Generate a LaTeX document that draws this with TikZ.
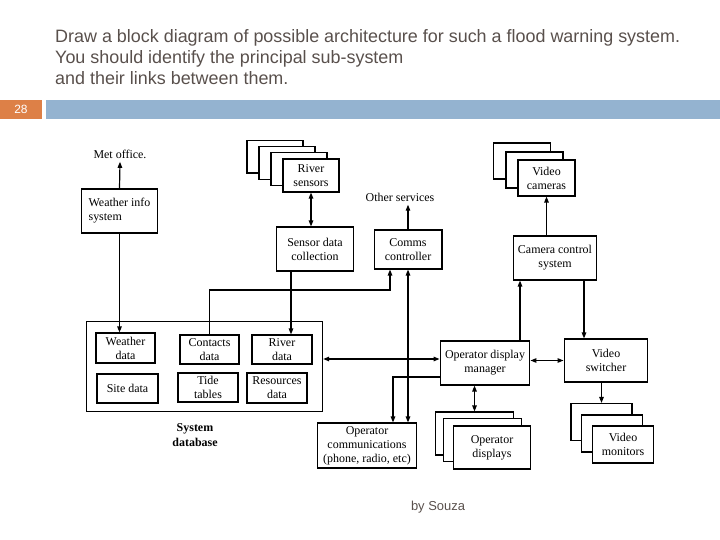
\documentclass[tikz,border=0pt]{standalone}
\usepackage{fontspec}
\setmainfont{Liberation Serif}
\setsansfont{Liberation Sans}
\usepackage{tikz}
\usetikzlibrary{arrows.meta, positioning, calc}
\definecolor{titlegrey}{RGB}{89,80,76}
\definecolor{barblue}{RGB}{148,179,208}
\definecolor{nrorange}{RGB}{221,128,71}

\begin{document}
\begin{tikzpicture}[x=1bp, y=-1bp,
    font=\fontsize{12}{14}\selectfont,
    blk/.style={draw, line width=1.25pt, fill=white, inner sep=1pt, align=center},
    arr/.style={line width=1.2pt, -{Triangle[length=6pt,width=4.5pt]}},
    dbl/.style={line width=1.2pt, {Triangle[length=6pt,width=4.5pt]}-{Triangle[length=6pt,width=4.5pt]}},
    ttl/.style={font=\sffamily\fontsize{18}{20}\selectfont, text=titlegrey, anchor=base west, inner sep=0pt}]
    \def\dx{12}
    \def\dy{6.3}
    % page
    \useasboundingbox (0,0) rectangle (720,540);
    \node[ttl] (title1) at (55,43) {Draw a block diagram of possible architecture for such a flood warning system.};
    \node[ttl] (title2) at (55,64) {You should identify the principal sub-system};
    \node[ttl] (title3) at (55,85) {and their links between them.};
    \fill[nrorange] (0,100) rectangle (42,119);
    \fill[barblue] (46,100) rectangle (720,119);
    \node[font=\sffamily\fontsize{12}{13}\selectfont, text=white] (pageno) at (21,109.5) {28};
    % weather side
    \node (met) at (120,154) {Met office.};
    \node[blk, minimum width=77, minimum height=44, align=left] (wis) at (119.5,211) {Weather info\\system};
    % river sensors, back to front
    \node[blk, minimum width=56, minimum height=33] (river3) at ({311-3*\dx},{175.5-3*\dy}) {};
    \node[blk, minimum width=56, minimum height=33] (river2) at ({311-2*\dx},{175.5-2*\dy}) {};
    \node[blk, minimum width=56, minimum height=33] (river1) at ({311-\dx},{175.5-\dy}) {};
    \node[blk, minimum width=56, minimum height=33] (river) at (311,175.5) {River\\sensors};
    \node[blk, minimum width=78, minimum height=44] (sensor) at (315,249) {Sensor data\\collection};
    \node (oth) at (400,197) {Other services};
    \node[blk, minimum width=68, minimum height=39] (comms) at (408,249.5) {Comms\\controller};
    % video cameras
    \node[blk, minimum width=57, minimum height=36] (cam2) at (522,161) {};
    \node[blk, minimum width=57, minimum height=36] (cam1) at (534.5,170) {};
    \node[blk, minimum width=57, minimum height=36] (cam) at (546.5,178) {Video\\cameras};
    \node[blk, minimum width=84, minimum height=44] (ccs) at (555,258) {Camera control\\system};
    % system database
    \node[blk, minimum width=237, minimum height=91] (sysdb) at (204.5,366.5) {};
    \node[blk, minimum width=59, minimum height=30] (wdata) at (125.5,348) {Weather\\data};
    \node[blk, minimum width=59, minimum height=29] (contacts) at (209.5,349.5) {Contacts\\data};
    \node[blk, minimum width=60, minimum height=29] (rdata) at (282,349.5) {River\\data};
    \node[blk, minimum width=61, minimum height=29] (site) at (127.5,388.5) {Site data};
    \node[blk, minimum width=60, minimum height=29] (tide) at (208,387.5) {Tide\\tables};
    \node[blk, minimum width=60, minimum height=30] (res) at (277,388) {Resources\\data};
    \node[font=\bfseries\fontsize{12}{15}\selectfont, align=center] (dblabel) at (195,435.5) {System\\database};
    % operator side
    \node[blk, minimum width=90, minimum height=44] (odm) at (485,363) {Operator display\\manager};
    \node[blk, minimum width=84, minimum height=43] (vsw) at (606,360.5) {Video\\switcher};
    \node[blk, minimum width=78, minimum height=43] (disp2) at (474.5,433.5) {};
    \node[blk, minimum width=78, minimum height=43] (disp1) at (482.5,440) {};
    \node[blk, minimum width=78, minimum height=43] (disp) at (492,447.5) {Operator\\displays};
    \node[blk, minimum width=61, minimum height=37] (mon2) at (601.5,422) {};
    \node[blk, minimum width=61, minimum height=37] (mon1) at (612,433.5) {};
    \node[blk, minimum width=61, minimum height=37] (mon) at (623,444.5) {Video\\monitors};
    \node[blk, minimum width=100, minimum height=45] (opcomm) at (367,445.5) {Operator\\communications\\(phone, radio, etc)};
    \node[font=\sffamily\fontsize{13}{14}\selectfont, text=titlegrey] (credit) at (438,507) {by Souza};
    % links
    \coordinate (bus) at (0,290);
    \coordinate (dbrow) at (0,359);
    \coordinate (odmrow) at (0,377);
    \coordinate (sensdown) at ($(sensor.south)+(-24,0)$);
    \coordinate (commsin) at ($(comms.south)+(-18,0)$);
    \coordinate (odmup) at ($(ccs.south)+(-35,0)$);
    \coordinate (vswdown) at ($(ccs.south)+(29,0)$);
    \coordinate (opin) at ($(opcomm.north)+(26,0)$);
    \draw[arr] (wis.north) -- (met.south);
    \draw[arr] (wis.south) -- (wis.south |- wdata.north);
    \draw[dbl] (river.south) -- (river.south |- sensor.north);
    \draw[arr] (comms.north) -- (comms.north |- oth.south);
    \draw[arr] (sensdown) -- (sensdown |- rdata.north);
    \draw[arr] (contacts.north) -- (contacts.north |- bus) -| (commsin);
    \draw[arr] (cam.south |- ccs.north) -- (cam.south);
    \draw[arr] (odmup |- odm.north) -- (odmup);
    \draw[arr] (vswdown) -- (vswdown |- vsw.north);
    \draw[dbl] (odm.east |- vsw.west) -- (vsw.west);
    \draw[arr] (vsw.south -| mon2) -- (mon2.north);
    \draw[dbl] (odm.south -| disp2) -- (disp2.north);
    \draw[dbl] (sysdb.east |- dbrow) -- (odm.west |- dbrow);
    \draw[arr] (odm.west |- odmrow) -| (opin);
    \draw[dbl] (comms.south) -- (comms.south |- opcomm.north);
\end{tikzpicture}
\end{document}
